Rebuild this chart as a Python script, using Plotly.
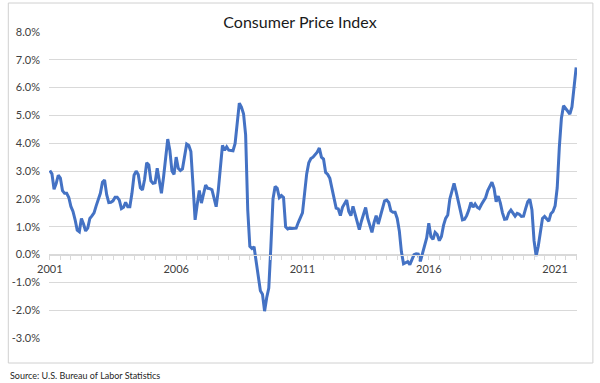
import plotly.graph_objects as go
import pandas as pd

# Year-over-year CPI change (%), monthly, Jan 2001 - Nov 2021
cpi_2001 = [3.02, 2.9, 2.35, 2.55, 2.85, 2.75, 2.3, 2.2, 2.2, 2.05, 1.73, 1.55]
cpi_2002 = [1.25, 0.88, 0.82, 1.3, 1.1, 0.85, 0.95, 1.3, 1.39, 1.5, 1.75, 1.95]
cpi_2003 = [2.2, 2.6, 2.68, 2.15, 1.87, 1.88, 1.93, 2.06, 2.06, 1.96, 1.65, 1.7]
cpi_2004 = [1.88, 1.72, 1.72, 2.2, 2.85, 3.0, 2.88, 2.4, 2.32, 2.7, 3.3, 3.22]
cpi_2005 = [2.65, 2.56, 2.58, 3.1, 2.62, 2.2, 2.78, 3.45, 4.15, 3.75, 3.0, 2.88]
cpi_2006 = [3.5, 3.1, 3.02, 3.08, 3.6, 3.97, 3.92, 3.7, 2.5, 1.25, 1.8, 2.3]
cpi_2007 = [1.85, 2.16, 2.5, 2.38, 2.37, 2.33, 2.0, 1.72, 2.3, 3.15, 3.92, 3.75]
cpi_2008 = [3.87, 3.75, 3.73, 3.73, 3.99, 4.8, 5.44, 5.3, 5.06, 4.3, 1.6, 0.3]
cpi_2009 = [0.22, 0.28, -0.3, -0.85, -1.3, -1.42, -2.03, -1.55, -1.2, 0.3, 2.0, 2.45]
cpi_2010 = [2.38, 2.05, 2.12, 2.05, 1.0, 0.92, 0.95, 0.94, 0.95, 0.95, 1.15, 1.35]
cpi_2011 = [1.5, 2.2, 2.9, 3.3, 3.45, 3.5, 3.6, 3.68, 3.83, 3.5, 3.43, 2.95]
cpi_2012 = [2.88, 2.74, 2.38, 2.0, 1.67, 1.64, 1.4, 1.7, 1.85, 1.96, 1.55, 1.4]
cpi_2013 = [1.73, 1.45, 1.15, 0.9, 1.2, 1.45, 1.69, 1.3, 1.0, 0.8, 1.15, 1.4]
cpi_2014 = [1.1, 1.4, 1.72, 1.93, 1.96, 1.87, 1.57, 1.52, 1.52, 1.3, 0.85, 0.1]
cpi_2015 = [-0.33, -0.3, -0.25, -0.36, -0.15, 0.0, 0.03, 0.02, -0.24, 0.05, 0.35, 0.6]
cpi_2016 = [1.13, 0.65, 0.55, 0.8, 0.72, 0.5, 0.65, 1.05, 1.3, 1.42, 2.0, 2.3]
cpi_2017 = [2.56, 2.25, 1.9, 1.6, 1.25, 1.27, 1.4, 1.6, 1.88, 1.7, 1.82, 1.7]
cpi_2018 = [1.65, 1.8, 1.92, 2.05, 2.3, 2.48, 2.6, 2.38, 1.9, 2.1, 1.85, 1.5]
cpi_2019 = [1.27, 1.28, 1.5, 1.6, 1.5, 1.38, 1.48, 1.45, 1.37, 1.38, 1.65, 1.9]
cpi_2020 = [1.99, 1.6, 0.5, -0.05, 0.3, 0.9, 1.3, 1.37, 1.3, 1.2, 1.47, 1.55]
cpi_2021 = [1.75, 2.4, 3.85, 4.9, 5.35, 5.25, 5.12, 5.05, 5.3, 6.05, 6.72]

cpi = (cpi_2001 + cpi_2002 + cpi_2003 + cpi_2004 + cpi_2005 + cpi_2006 + cpi_2007
       + cpi_2008 + cpi_2009 + cpi_2010 + cpi_2011 + cpi_2012 + cpi_2013 + cpi_2014
       + cpi_2015 + cpi_2016 + cpi_2017 + cpi_2018 + cpi_2019 + cpi_2020 + cpi_2021)

months = pd.date_range("2001-01-01", periods=len(cpi), freq="MS")
x_idx = list(range(len(cpi)))

label_years = [2001, 2006, 2011, 2016, 2021]
y_ticks = [-3, -2, -1, 0, 1, 2, 3, 4, 5, 6, 7, 8]

tick_pos = [i for i, m in enumerate(months) if m.month == 1 and m.year in label_years]
tick_txt = [str(months[i].year) for i in tick_pos]
y_txt = [f"{v:.1f}%" for v in y_ticks]

FONT = "Lato, 'Open Sans', sans-serif"
GRID = "#d9d9d9"

fig = go.Figure()
fig.add_trace(go.Scatter(
    x=x_idx, y=cpi, mode="lines",
    line=dict(color="#4472C4", width=3),
    hoverinfo="skip", showlegend=False,
))

fig.update_layout(
    width=600, height=383,
    margin=dict(l=45, r=23, t=31, b=44),
    paper_bgcolor="white", plot_bgcolor="white",
    font=dict(family=FONT, size=11, color="#404040"),
    title=dict(text="Consumer Price Index", x=0.5, xref="container", xanchor="center",
               y=1 - 22 / 383, yref="container", yanchor="middle",
               font=dict(family=FONT, size=16, color="#1a1a1a")),
    xaxis=dict(
        range=[-0.4, len(cpi) - 1 + 0.4],
        anchor="free", position=3 / 11,
        showgrid=False, zeroline=False,
        showline=True, linecolor=GRID, linewidth=1,
        tickmode="array", tickvals=tick_pos, ticktext=tick_txt,
        ticks="outside", ticklen=4, tickcolor=GRID, tickwidth=1,
        minor=dict(tickmode="linear", tick0=0, dtick=5, ticks="outside",
                   ticklen=4, tickcolor=GRID, tickwidth=1, showgrid=False),
        tickfont=dict(family=FONT, size=11, color="#404040"),
    ),
    yaxis=dict(
        range=[-3.03, 8.03], domain=[0, 1],
        tickmode="array", tickvals=y_ticks, ticktext=y_txt,
        showgrid=True, gridcolor=GRID, gridwidth=1,
        zeroline=False, showline=False, ticks="",
        ticklabelstandoff=8,
        tickfont=dict(family=FONT, size=11, color="#404040"),
    ),
    shapes=[dict(type="rect", xref="paper", yref="paper",
                 x0=(4 - 45) / 532, x1=(593 - 45) / 532,
                 y0=(339 - 363) / 308, y1=(339 - 3) / 308,
                 line=dict(color="#d0d0d0", width=1), fillcolor="rgba(0,0,0,0)", layer="below")],
    annotations=[dict(text="Source: U.S. Bureau of Labor Statistics",
                      xref="paper", yref="paper", x=(4 - 45) / 532, y=(339 - 375) / 308,
                      xanchor="left", yanchor="middle", showarrow=False,
                      font=dict(family=FONT, size=9, color="#262626"))],
)

fig.write_html("out.html", config={"displayModeBar": False},
               post_script="document.body.style.margin='0px';document.body.style.padding='0px';")
